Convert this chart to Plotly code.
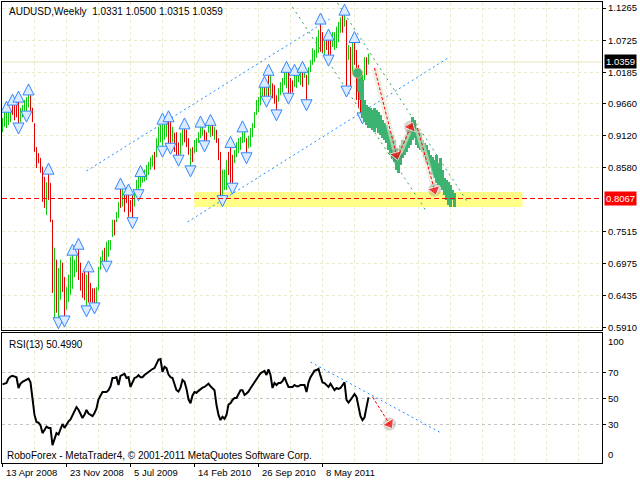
import plotly.graph_objects as go

# ---------------- data ----------------
symbol = "AUDUSD"
period = "Weekly"

opens = [
    .921, .938, .940, .936, .940, .963, .960, .965, .968, .938,
    .948, .952, .955, .965, .978, .955, .930, .890, .880, .872,
    .855, .840, .790, .848, .830, .768, .640, .700, .628, .660,
    .690, .660, .625, .640, .655, .680, .680, .690, .715, .690,
    .670, .680, .630, .680, .660, .650, .650, .630, .655, .690,
    .700, .718, .705, .712, .722, .745, .765, .770, .778, .822,
    .796, .815, .810, .812, .800, .812, .795, .812, .820, .828,
    .836, .838, .842, .850, .858, .862, .882, .880, .895, .905,
    .900, .908, .914, .935, .930, .903, .912, .914, .898, .882,
    .900, .924, .918, .905, .862, .890, .886, .888, .903, .910,
    .915, .920, .915, .918, .914, .930, .908, .920, .905, .882,
    .812, .830, .828, .880, .890, .875, .868, .880, .886, .892,
    .903, .905, .905, .893, .897, .912, .928, .950, .955, .966,
    .975, .994, .977, 1.014, .983, .997, .993, .976, .972, .983,
    .988, 1.000, .996, 1.016, 1.005, 1.002, .996, .995, 1.005, 1.000,
    1.020, 1.012, 1.010, 1.000, 1.022, 1.034, 1.039, 1.046, 1.055, 1.098,
    1.082, 1.052, 1.074, 1.072, 1.074, 1.064, 1.060, 1.062, 1.072, 1.088,
    1.118, 1.098, 1.102, 1.042, 1.058, 1.020, 1.068, 1.052, 1.028, .985,
    .950, 1.008, 1.040, 1.0331,
]
highs = [
    .942, .952, .955, .952, .955, .967, .968, .972, .972, .959,
    .964, .972, .977, .984, .980, .959, .933, .893, .883, .875,
    .860, .843, .834, .851, .833, .771, .724, .704, .690, .704,
    .699, .675, .658, .679, .709, .715, .704, .712, .725, .699,
    .682, .687, .679, .687, .665, .656, .656, .658, .692, .709,
    .720, .724, .734, .737, .737, .771, .771, .784, .801, .826,
    .829, .818, .813, .816, .804, .816, .821, .838, .847, .847,
    .855, .855, .863, .868, .876, .880, .885, .908, .927, .930,
    .935, .942, .939, .939, .935, .927, .917, .918, .901, .917,
    .930, .927, .922, .908, .891, .893, .905, .908, .918, .930,
    .935, .922, .918, .935, .933, .933, .927, .922, .908, .885,
    .855, .855, .871, .885, .896, .880, .888, .901, .908, .910,
    .922, .922, .908, .912, .925, .933, .952, .972, .977, .997,
    1.002, .997, 1.002, 1.017, 1.017, 1.000, .997, .980, .992, 1.002,
    1.009, 1.022, 1.022, 1.019, 1.009, 1.005, 1.017, 1.019, 1.026, 1.026,
    1.022, 1.031, 1.014, 1.027, 1.039, 1.059, 1.056, 1.078, 1.090, 1.103,
    1.086, 1.078, 1.078, 1.076, 1.078, 1.086, 1.086, 1.095, 1.103, 1.111,
    1.123, 1.118, 1.106, 1.064, 1.061, 1.081, 1.072, 1.056, 1.031, .989,
    1.014, 1.044, 1.044, 1.0500,
]
lows = [
    .918, .927, .925, .930, .935, .947, .938, .943, .930, .935,
    .943, .947, .950, .959, .952, .935, .885, .858, .866, .850,
    .801, .791, .779, .804, .767, .648, .603, .615, .603, .637,
    .650, .606, .620, .633, .645, .655, .675, .683, .670, .652,
    .640, .636, .623, .632, .633, .632, .628, .624, .653, .687,
    .698, .698, .698, .709, .720, .742, .745, .767, .774, .791,
    .793, .784, .799, .776, .784, .771, .793, .809, .818, .825,
    .833, .835, .838, .846, .855, .860, .855, .876, .891, .901,
    .891, .905, .910, .891, .896, .901, .885, .875, .876, .880,
    .896, .901, .893, .880, .858, .868, .883, .885, .900, .908,
    .912, .900, .901, .917, .910, .912, .905, .900, .871, .804,
    .808, .821, .821, .846, .833, .829, .866, .876, .883, .888,
    .900, .901, .880, .891, .893, .910, .925, .947, .952, .963,
    .972, .969, .975, .977, .980, .975, .966, .952, .969, .980,
    .985, .997, .992, .980, .980, .985, .994, .992, 1.002, .997,
    .994, 1.009, .969, .997, 1.019, 1.031, 1.036, 1.043, 1.051, 1.053,
    1.051, 1.048, 1.056, 1.044, 1.048, 1.061, 1.056, 1.059, 1.069, 1.085,
    1.085, 1.095, .992, 1.039, .989, 1.017, 1.031, .972, .959, .942,
    .947, 1.005, 1.014, 1.0315,
]
closes = [
    .938, .947, .950, .948, .952, .950, .945, .948, .935, .955,
    .960, .968, .972, .980, .955, .938, .888, .862, .870, .853,
    .805, .795, .830, .808, .770, .652, .700, .625, .670, .690,
    .660, .615, .652, .672, .700, .705, .698, .705, .675, .660,
    .645, .645, .670, .640, .640, .636, .632, .652, .688, .705,
    .715, .702, .728, .730, .734, .765, .750, .780, .798, .795,
    .825, .790, .802, .782, .788, .778, .818, .834, .842, .843,
    .852, .850, .860, .865, .872, .877, .860, .905, .922, .926,
    .930, .938, .935, .895, .900, .924, .890, .880, .880, .912,
    .925, .905, .897, .884, .886, .872, .900, .904, .915, .926,
    .932, .904, .905, .931, .930, .916, .923, .904, .875, .812,
    .848, .852, .866, .850, .838, .835, .884, .898, .905, .907,
    .919, .918, .885, .909, .921, .930, .948, .968, .974, .992,
    .998, .973, .999, .981, 1.013, .979, .970, .956, .988, .999,
    1.005, 1.019, 1.018, .984, .985, .988, 1.014, 1.016, 1.022, 1.023,
    .998, 1.028, .975, 1.024, 1.036, 1.055, 1.053, 1.074, 1.086, 1.058,
    1.055, 1.074, 1.060, 1.048, 1.052, 1.082, 1.083, 1.091, 1.099, 1.108,
    1.090, 1.114, 1.000, 1.060, .995, 1.075, 1.036, .978, .965, .948,
    1.010, 1.040, 1.018, 1.0359,
]

rsi13 = [
    60.5, 61, 61.5, 65, 66.5, 67, 66.5, 66, 57.7, 61,
    62.5, 63.5, 64.6, 65, 62, 50, 37, 31.5, 31, 29,
    23, 25.4, 28, 27, 27, 13.8, 19, 23, 22, 26,
    30, 27, 30, 32, 33.5, 37, 40.8, 43, 41, 38,
    34.6, 37, 40.8, 38, 37, 36, 38.5, 42, 49, 52,
    54.6, 54.6, 54.6, 56, 59, 65.4, 65.4, 66, 60, 67,
    68, 68.5, 65.4, 66, 58.5, 62, 65.4, 66, 67.5, 66,
    66, 67.7, 69, 70, 71.5, 72.3, 73, 77, 79.5, 80,
    70, 74, 73, 68, 66, 65.4, 60, 56, 55, 58,
    64, 62.5, 57, 49, 46, 52, 54.6, 54, 55.5, 57,
    58, 58.5, 60, 61, 59, 57.5, 56, 44.6, 37, 33,
    35.5, 34, 37, 45, 46, 48.5, 50, 50, 53, 56,
    56, 52.3, 53.5, 55, 57.5, 60, 62, 64.6, 67, 69,
    70, 70.8, 67.7, 72, 67.7, 57.7, 61.5, 60, 61.5, 61.5,
    63, 66, 62, 58.5, 58.5, 58.5, 60, 59, 59, 60,
    60, 60, 54.6, 62, 66, 69, 71, 71.5, 72.5, 67,
    62, 61.5, 60, 58.5, 61, 58.5, 56, 57.7, 57, 57.7,
    60, 62, 48.5, 46.5, 48.5, 50.8, 53, 50.8, 44, 36,
    33, 35, 43, 50.499,
]

date_labels = ["13 Apr 2008", "23 Nov 2008", "5 Jul 2009", "14 Feb 2010", "26 Sep 2010", "8 May 2011"]
date_label_bars = [0, 32, 64, 96, 128, 160]

price_ticks = [1.1265, 1.0725, 1.0185, 0.9660, 0.9120, 0.8580, 0.7515, 0.6975, 0.6435, 0.5910]
rsi_ticks = [70, 50, 30]
rsi_bounds = [0, 100]

# Bill Williams fractals (bar indices)
up_fractal_bars = [2, 5, 8, 13, 23, 35, 38, 43, 59, 63, 69, 80, 83, 91, 99, 104, 114, 120,
                   131, 133, 142, 146, 150, 159, 163, 171, 176]
down_fractal_bars = [8, 12, 28, 31, 42, 46, 52, 65, 68, 80, 84, 88, 94, 101, 110, 115, 122,
                     132, 137, 143, 152, 163, 172, 180]

# analyst drawings
support_level = 0.8067
support_zone_bars = [96, 260]
support_zone_prices = [0.7924, 0.8176]

up_channel_upper_bars = [42, 163.5]
up_channel_upper_prices = [0.8529, 1.1080]
up_channel_lower_bars = [92.5, 223.5]
up_channel_lower_prices = [0.7673, 1.0442]
down_channel_upper_bars = [167.5, 232.5]
down_channel_upper_prices = [1.1349, 0.8008]
down_channel_lower_bars = [145, 212.5]
down_channel_lower_prices = [1.1282, 0.7824]

forecast_start_bar = [177.5]
forecast_start_price = [1.0174]
forecast_first_bar = 178
forecast_highs = [
    1.0224, 1.0140, 1.0056, 0.9721, 0.9637, 0.9603, 0.9586, 0.9553, 0.9586, 0.9553,
    0.9519, 0.9469, 0.9385, 0.9334, 0.9301, 0.9217, 0.9167, 0.9133, 0.9049, 0.8915,
    0.8848, 0.8965, 0.9049, 0.9049, 0.9133, 0.9217, 0.9301, 0.9435, 0.9385, 0.9250,
    0.9217, 0.9167, 0.9049, 0.8999, 0.8965, 0.8881, 0.8797, 0.8764, 0.8713, 0.8797,
    0.8663, 0.8747, 0.8546, 0.8411, 0.8378, 0.8344, 0.8294, 0.8210, 0.8159,
]
forecast_lows = [
    0.9855, 0.9721, 0.9418, 0.9351, 0.9301, 0.9250, 0.9250, 0.9217, 0.9183, 0.9250,
    0.9167, 0.9133, 0.9083, 0.9049, 0.8999, 0.8881, 0.8797, 0.8747, 0.8680, 0.8546,
    0.8495, 0.8629, 0.8747, 0.8797, 0.8848, 0.8915, 0.8965, 0.9049, 0.9083, 0.8965,
    0.8915, 0.8881, 0.8848, 0.8764, 0.8680, 0.8629, 0.8579, 0.8462, 0.8411, 0.8327,
    0.8294, 0.8260, 0.8210, 0.8126, 0.8042, 0.7958, 0.7924, 0.8042, 0.7924,
]
forecast_arrow_bars = [[186, 197], [198.5, 204], [207.5, 216]]
forecast_arrow_prices = [[1.0258, 0.8797], [0.8831, 0.9267], [0.9250, 0.8210]]

rsi_trend_bars = [154, 218.5]
rsi_trend_values = [77.7, 23.8]
rsi_arrow_bars = [185, 193.5]
rsi_arrow_values = [50.8, 30]

# ---------------- styles ----------------
FONT = "Liberation Sans, Arial, sans-serif"
BULL = "#10CC10"
BEAR = "#E00000"
GRID = "#EAEACB"
FRACTAL_FILL = "#DCEBFF"
FRACTAL_LINE = "#2F86FF"
FORECAST = "#3CB371"
CHANNEL_BLUE = "#1E90FF"
CHANNEL_GREEN = "#2EA35E"
FRACTAL_GAP = 0.015

W, H = 640, 480
x_range = [-0.25, 299.75]
price_range = [0.58596, 1.13657]
xdom = [2 / W, 602 / W]
main_dom = [1 - 330 / H, 1 - 2 / H]
rsi_dom = [1 - 463 / H, 1 - 333 / H]

n = len(closes)
bars = list(range(n))

fig = go.Figure()

# background drawings
fig.add_shape(type="rect", xref="x", yref="y",
              x0=support_zone_bars[0], x1=support_zone_bars[1],
              y0=support_zone_prices[0], y1=support_zone_prices[1],
              fillcolor="#FFFF88", line_width=0, layer="between")
fig.add_shape(type="line", xref="x", yref="y", x0=x_range[0], x1=x_range[1],
              y0=closes[-1], y1=closes[-1],
              line=dict(color="#E6E6BC", width=1), layer="between")
fig.add_shape(type="line", xref="x", yref="y", x0=x_range[0], x1=x_range[1],
              y0=support_level, y1=support_level,
              line=dict(color="#FF0000", width=1, dash="5px,3px"), layer="above")


def line_trace(xs, ys, color, dash, width=1, xa="x", ya="y"):
    return go.Scatter(x=xs, y=ys, mode="lines", xaxis=xa, yaxis=ya,
                      line=dict(color=color, width=width, dash=dash),
                      hoverinfo="skip", showlegend=False)


fig.add_trace(line_trace(up_channel_upper_bars, up_channel_upper_prices, CHANNEL_BLUE, "2px,3px"))
fig.add_trace(line_trace(up_channel_lower_bars, up_channel_lower_prices, CHANNEL_BLUE, "2px,3px"))
fig.add_trace(line_trace(down_channel_upper_bars, down_channel_upper_prices, CHANNEL_GREEN, "2px,4px"))
fig.add_trace(line_trace(down_channel_lower_bars, down_channel_lower_prices, CHANNEL_GREEN, "2px,4px"))

# price bars
fig.add_trace(go.Ohlc(x=bars, open=opens, high=highs, low=lows, close=closes,
                      increasing=dict(line=dict(color=BULL, width=1)),
                      decreasing=dict(line=dict(color=BEAR, width=1)),
                      tickwidth=0, hoverinfo="skip", showlegend=False,
                      xaxis="x", yaxis="y"))

# fractals
fig.add_trace(go.Scatter(
    x=up_fractal_bars, y=[highs[i] + FRACTAL_GAP for i in up_fractal_bars],
    mode="markers", hoverinfo="skip", showlegend=False,
    marker=dict(symbol="arrow-up", size=11, color=FRACTAL_FILL,
                line=dict(color=FRACTAL_LINE, width=1))))
fig.add_trace(go.Scatter(
    x=down_fractal_bars, y=[lows[i] - FRACTAL_GAP for i in down_fractal_bars],
    mode="markers", hoverinfo="skip", showlegend=False,
    marker=dict(symbol="arrow-down", size=11, color=FRACTAL_FILL,
                line=dict(color=FRACTAL_LINE, width=1))))

# forecast path
fx, fy = [], []
for k, (hi, lo) in enumerate(zip(forecast_highs, forecast_lows)):
    b = forecast_first_bar + k
    fx += [b, b, None]
    fy += [lo, hi, None]
fig.add_trace(go.Scatter(x=fx, y=fy, mode="lines", hoverinfo="skip", showlegend=False,
                         line=dict(color=FORECAST, width=3)))
fig.add_trace(go.Scatter(x=forecast_start_bar, y=forecast_start_price, mode="markers",
                         hoverinfo="skip", showlegend=False,
                         marker=dict(symbol="circle", size=10, color=FORECAST,
                                     line=dict(color="#D9B07A", width=1))))

# forecast arrows
for xs, ys in zip(forecast_arrow_bars, forecast_arrow_prices):
    fig.add_trace(line_trace(xs, ys, "rgba(232,229,212,0.6)", "solid", width=6))
for xs, ys in zip(forecast_arrow_bars, forecast_arrow_prices):
    fig.add_trace(go.Scatter(x=[xs[1]], y=[ys[1]], mode="markers", hoverinfo="skip",
                             showlegend=False,
                             marker=dict(size=13, color="rgba(110,110,90,0.3)")))
    fig.add_trace(go.Scatter(x=xs, y=ys, mode="lines+markers", hoverinfo="skip",
                             showlegend=False,
                             line=dict(color="#FF0000", width=1, dash="3px,2px"),
                             marker=dict(symbol="triangle-up", size=[0, 11], color="#FF0000",
                                         angleref="previous")))

# RSI pane
fig.add_trace(go.Scatter(x=bars, y=rsi13, mode="lines", xaxis="x2", yaxis="y2",
                         hoverinfo="skip", showlegend=False,
                         line=dict(color="black", width=2)))
fig.add_trace(line_trace(rsi_trend_bars, rsi_trend_values, CHANNEL_BLUE, "2px,3px",
                         xa="x2", ya="y2"))
fig.add_trace(go.Scatter(x=[rsi_arrow_bars[1]], y=[rsi_arrow_values[1]], mode="markers",
                         xaxis="x2", yaxis="y2", hoverinfo="skip", showlegend=False,
                         marker=dict(size=13, color="rgba(110,110,90,0.3)")))
fig.add_trace(go.Scatter(x=rsi_arrow_bars, y=rsi_arrow_values, mode="lines+markers",
                         xaxis="x2", yaxis="y2", hoverinfo="skip", showlegend=False,
                         line=dict(color="#FF0000", width=1, dash="3px,2px"),
                         marker=dict(symbol="triangle-up", size=[0, 11], color="#FF0000",
                                     angleref="previous")))

# ---------------- layout ----------------
tickfont = dict(family=FONT, size=9.5, color="black")
axis_common = dict(zeroline=False, showline=True, mirror=True, linecolor="black", linewidth=1)

fig.update_layout(
    width=W, height=H, margin=dict(l=0, r=0, t=0, b=0),
    paper_bgcolor="white", plot_bgcolor="white", showlegend=False,
    font=dict(family=FONT, size=9.5, color="black"),
    hovermode=False,
    xaxis=dict(domain=xdom, range=x_range, anchor="y", showticklabels=False, ticks="",
               tick0=0, dtick=16, showgrid=True, gridcolor=GRID, griddash="3px,3px",
               rangeslider=dict(visible=False), **axis_common),
    yaxis=dict(domain=main_dom, range=price_range, anchor="x", side="right",
               tickvals=price_ticks, showticklabels=False, ticks="outside", ticklen=3,
               tickcolor="black", showgrid=True, gridcolor=GRID, griddash="3px,3px",
               **axis_common),
    xaxis2=dict(domain=xdom, range=x_range, anchor="y2", showticklabels=False, ticks="",
                tick0=0, dtick=16, showgrid=True, gridcolor=GRID, griddash="3px,3px",
                **axis_common),
    yaxis2=dict(domain=rsi_dom, range=rsi_bounds, anchor="x2", side="right",
                tickvals=rsi_ticks, showticklabels=False, ticks="outside", ticklen=3,
                tickcolor="black", showgrid=True, gridcolor="#C4C4C4", griddash="3px,3px",
                **axis_common),
)

# date tick marks below the RSI pane
for b in date_label_bars:
    fig.add_shape(type="line", xref="x2", yref="paper", x0=b, x1=b,
                  y0=1 - 463 / H, y1=1 - 467 / H, line=dict(color="black", width=1))

ann = []
title = f"{symbol},{period}  {opens[-1]:.4f} {highs[-1]:.4f} {lows[-1]:.4f} {closes[-1]:.4f}"
ann.append(dict(text=title, xref="paper", yref="paper", x=7 / W, y=1 - 11 / H,
                xanchor="left", yanchor="middle", showarrow=False,
                font=dict(family=FONT, size=10, color="black")))
ann.append(dict(text=f"RSI(13) {rsi13[-1]:.4f}", xref="paper", yref="paper",
                x=7 / W, y=1 - 344 / H, xanchor="left", yanchor="middle", showarrow=False,
                font=dict(family=FONT, size=10, color="black")))
ann.append(dict(text="RoboForex - MetaTrader4, © 2001-2011 MetaQuotes Software Corp.",
                xref="paper", yref="paper", x=5 / W, y=1 - 455 / H,
                xanchor="left", yanchor="middle", showarrow=False,
                font=dict(family=FONT, size=10, color="black")))
for v in price_ticks:
    ann.append(dict(text=f"{v:.4f}", xref="paper", yref="y", x=606 / W, y=v,
                    xanchor="left", yanchor="middle", showarrow=False, font=tickfont))
for v in rsi_ticks:
    ann.append(dict(text=f"{v}", xref="paper", yref="y2", x=606 / W, y=v,
                    xanchor="left", yanchor="middle", showarrow=False, font=tickfont))
ann.append(dict(text=f"{rsi_bounds[1]}", xref="paper", yref="y2", x=606 / W, y=rsi_bounds[1],
                xanchor="left", yanchor="top", yshift=-1, showarrow=False, font=tickfont))
ann.append(dict(text=f"{rsi_bounds[0]}", xref="paper", yref="y2", x=606 / W, y=rsi_bounds[0],
                xanchor="left", yanchor="bottom", yshift=1, showarrow=False, font=tickfont))
for b, lab in zip(date_label_bars, date_labels):
    ann.append(dict(text=lab, xref="x2", yref="paper", x=b, y=1 - 472 / H, xshift=1,
                    xanchor="left", yanchor="middle", showarrow=False, font=tickfont))
ann.append(dict(text=f"{closes[-1]:.4f}", xref="paper", yref="y", x=604 / W, y=closes[-1],
                xanchor="left", yanchor="middle", showarrow=False, bgcolor="black",
                borderpad=1, font=dict(family=FONT, size=9.5, color="white")))
ann.append(dict(text=f"{support_level:.4f}", xref="paper", yref="y", x=604 / W,
                y=support_level, xanchor="left", yanchor="middle", showarrow=False,
                bgcolor="#FF0000", borderpad=1,
                font=dict(family=FONT, size=9.5, color="white")))
fig.update_layout(annotations=ann)

fig.write_html("out.html",
               config={"displayModeBar": False, "staticPlot": True},
               post_script="document.body.style.margin='0px';document.body.style.padding='0px';")
